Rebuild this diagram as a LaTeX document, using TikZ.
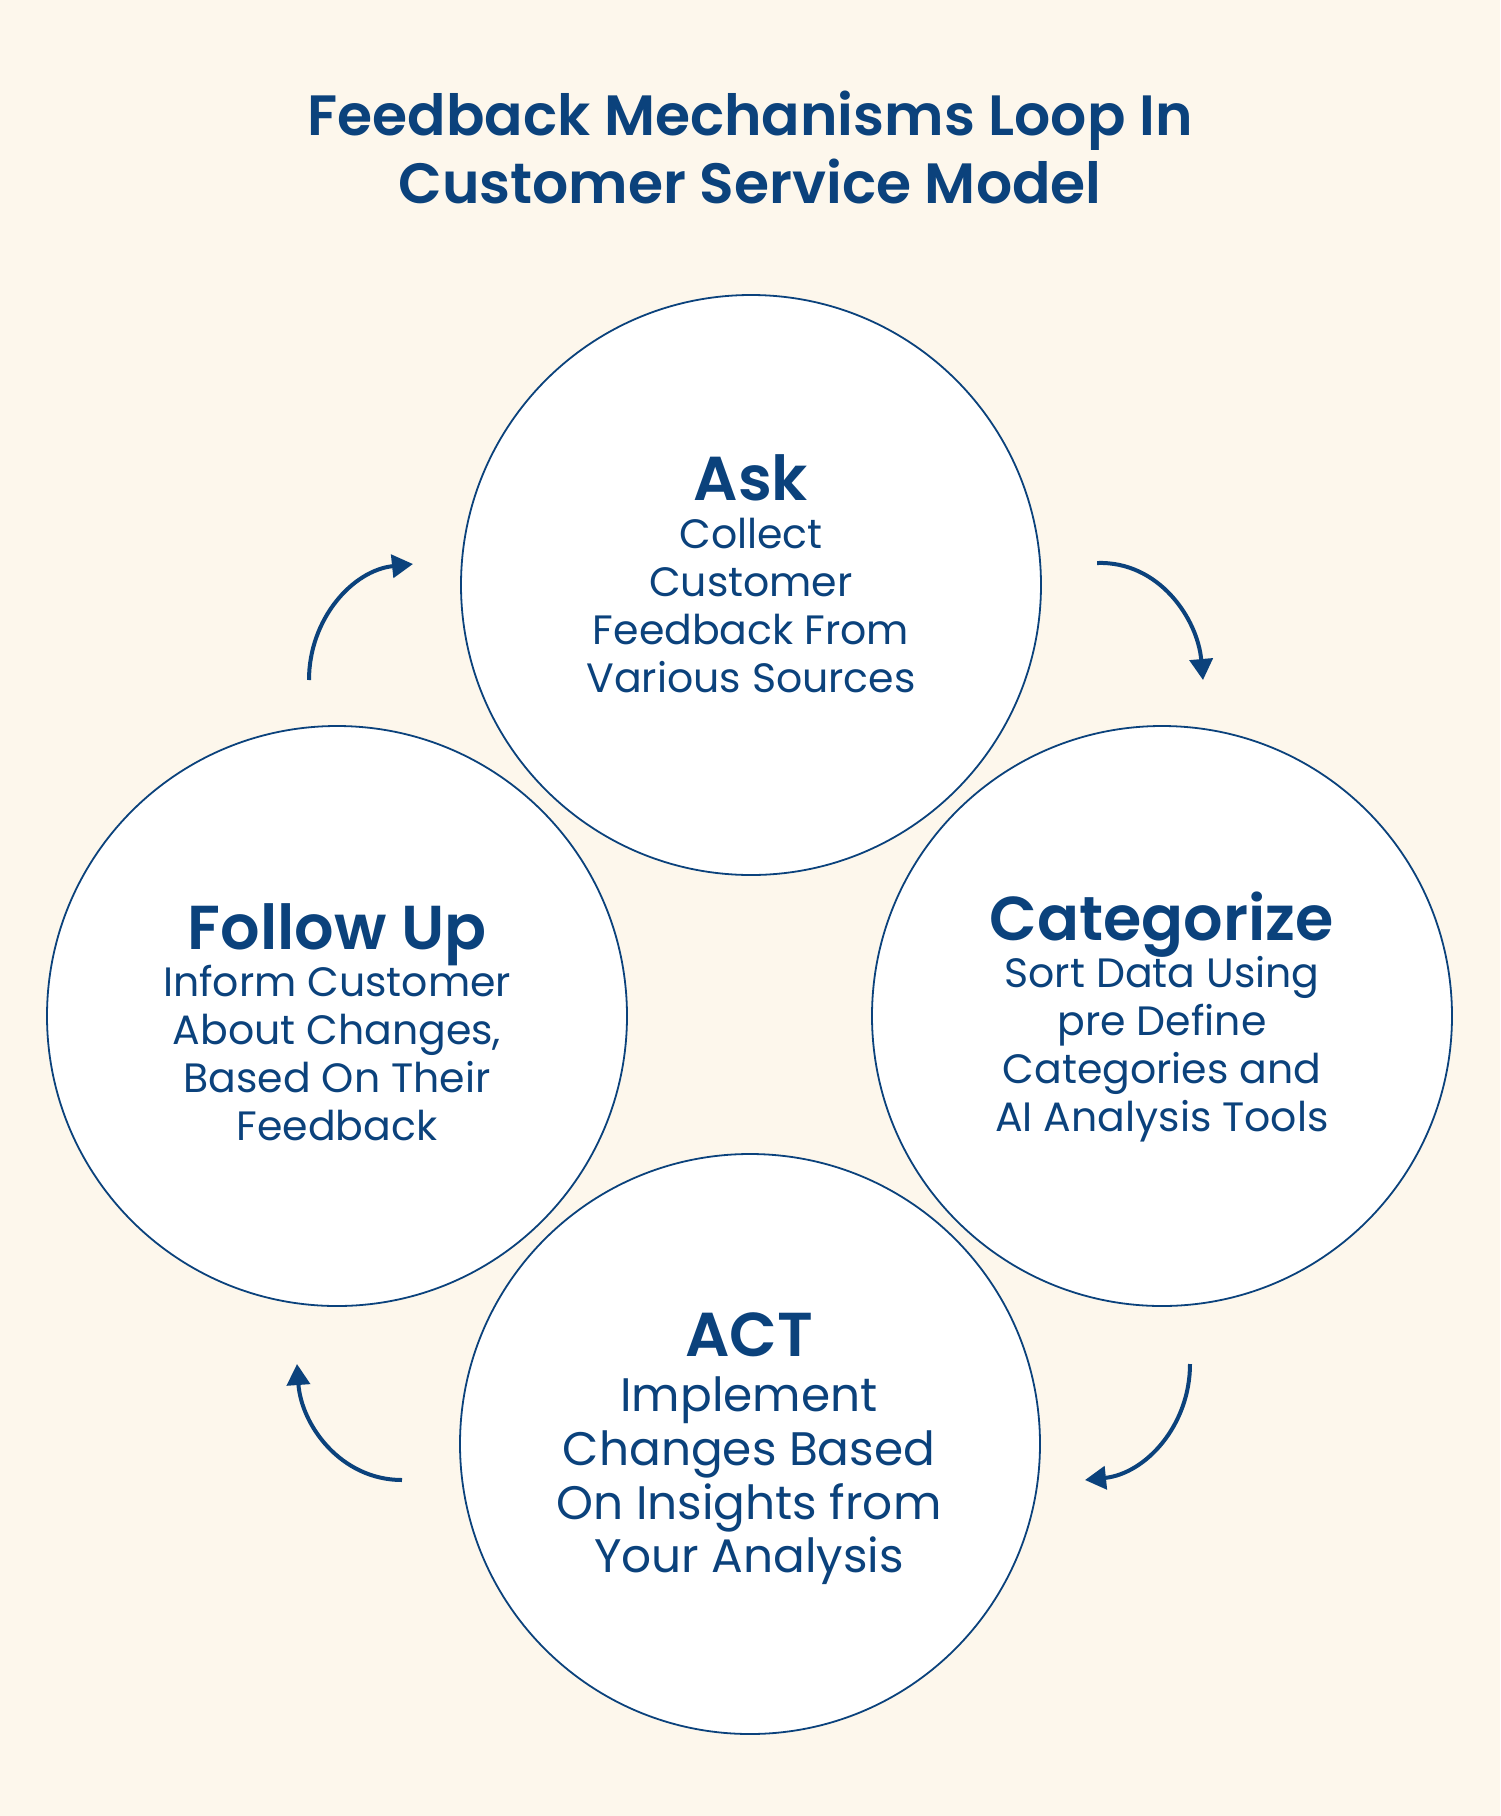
\documentclass[tikz,border=0pt]{standalone}
\usepackage{fontspec}
\setmainfont{Poppins}
\newfontfamily\semib{Poppins SemiBold}
\usetikzlibrary{arrows.meta}
\definecolor{navy}{HTML}{0B427C}
\definecolor{cream}{HTML}{FDF7EC}
\begin{document}
\begin{tikzpicture}[x=0.5pt,y=-0.5pt,
  ttl/.style={font=\semib\fontsize{28.4}{28.4}\selectfont, text=navy, anchor=base, inner sep=0pt},
  hd/.style={font=\semib\fontsize{31}{31}\selectfont, text=navy, anchor=base, inner sep=0pt},
  bd/.style={font=\fontsize{20.5}{20.5}\selectfont, text=navy, anchor=base, inner sep=0pt},
  bdl/.style={font=\fontsize{23.5}{23.5}\selectfont, text=navy, anchor=base, inner sep=0pt},
  ring/.style={circle, draw=navy, line width=0.9pt, fill=white, minimum size=290pt, inner sep=0pt},
  flow/.style={draw=navy, line width=2pt, -{Triangle[length=10.5pt,width=11.5pt]}}]
\fill[cream] (0,0) rectangle (1500,1816);
\useasboundingbox (0,0) rectangle (1500,1816);

% title
\node[ttl] (t1) at (750,135) {Feedback Mechanisms Loop In};
\node[ttl] (t2) at (750,203) {Customer Service Model};

% circles
\node[ring] (ask) at (751,585) {};
\node[ring] (cat) at (1162,1016) {};
\node[ring] (act) at (750,1444) {};
\node[ring] (fol) at (337,1016) {};

% Ask
\node[hd] (askh) at (751,500) {Ask};
\node[bd] (ask1) at (751,548) {Collect};
\node[bd] (ask2) at (751,596) {Customer};
\node[bd] (ask3) at (751,644) {Feedback From};
\node[bd] (ask4) at (751,692) {Various Sources};

% Categorize
\node[hd] (cath) at (1162,940) {Categorize};
\node[bd] (cat1) at (1162,987) {Sort Data Using};
\node[bd] (cat2) at (1162,1035) {pre Define};
\node[bd] (cat3) at (1162,1083) {Categories and};
\node[bd] (cat4) at (1162,1131) {AI Analysis Tools};

% Follow Up
\node[hd] (folh) at (337,949) {Follow Up};
\node[bd] (fol1) at (337,996) {Inform Customer};
\node[bd] (fol2) at (337,1044) {About Changes,};
\node[bd] (fol3) at (337,1092) {Based On Their};
\node[bd] (fol4) at (337,1140) {Feedback};

% ACT
\node[hd] (acth) at (749,1356) {ACT};
\node[bdl] (act1) at (749,1411) {Implement};
\node[bdl] (act2) at (749,1465) {Changes Based};
\node[bdl] (act3) at (749,1519) {On Insights from};
\node[bdl] (act4) at (749,1572) {Your Analysis};

% arrows
\coordinate (a1s) at (309,680);
\coordinate (a1e) at (413,564);
\coordinate (a2s) at (1097,563);
\coordinate (a2e) at (1203,680);
\coordinate (a3s) at (1190,1364);
\coordinate (a3e) at (1085,1480);
\coordinate (a4s) at (402,1480);
\coordinate (a4e) at (297,1364);
\draw[flow] (a1s) to[out=90,in=186] (a1e);
\draw[flow] (a2s) to[out=2,in=95] (a2e);
\draw[flow] (a3s) to[out=-90,in=6] (a3e);
\draw[flow] (a4s) to[out=180,in=-86] (a4e);
\end{tikzpicture}
\end{document}
